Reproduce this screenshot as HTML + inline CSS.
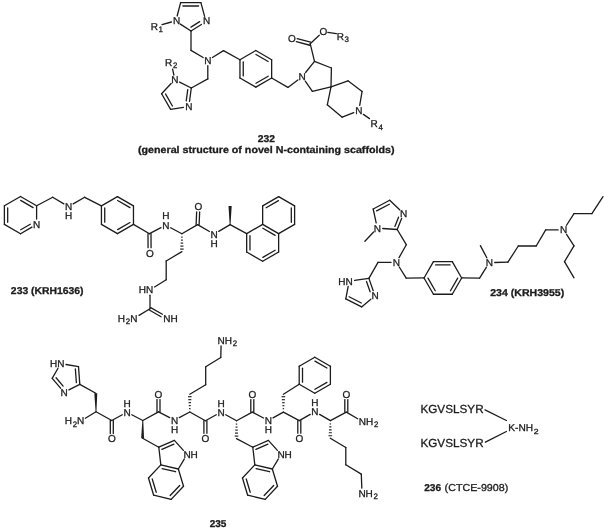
<!DOCTYPE html>
<html><head><meta charset="utf-8"><style>
html,body{margin:0;padding:0;background:#fff;}
body{width:604px;height:530px;overflow:hidden;}
svg{display:block;filter:blur(0.3px);}
svg text{font-family:"Liberation Sans",sans-serif;text-rendering:geometricPrecision;fill:#1c1c1c;stroke:#1c1c1c;stroke-width:0.3px;}
</style></head><body>
<svg width="604" height="530" viewBox="0 0 604 530">
<g stroke="#1c1c1c" stroke-linecap="round" fill="none">
<line x1="177.16" y1="15.97" x2="180.60" y2="2.70" stroke-width="1.3"/>
<line x1="180.60" y1="2.70" x2="200.90" y2="2.70" stroke-width="1.3"/>
<line x1="182.93" y1="6.00" x2="198.57" y2="6.00" stroke-width="1.3"/>
<line x1="200.90" y1="2.70" x2="204.59" y2="16.39" stroke-width="1.3"/>
<line x1="201.42" y1="24.47" x2="191.00" y2="31.00" stroke-width="1.3"/>
<line x1="199.67" y1="21.67" x2="190.97" y2="27.12" stroke-width="1.3"/>
<line x1="191.00" y1="31.00" x2="180.34" y2="24.13" stroke-width="1.3"/>
<text x="172.89" y="23.84" font-size="10.0">N</text>
<text x="202.99" y="24.04" font-size="10.0">N</text>
<line x1="162.00" y1="24.60" x2="171.40" y2="22.00" stroke-width="1.3"/>
<text x="150.69" y="29.94" font-size="10.0">R<tspan font-size="7.9" dx="0.7" dy="2.3">1</tspan></text>
<line x1="191.00" y1="31.00" x2="191.00" y2="50.40" stroke-width="1.3"/>
<text x="204.19" y="63.74" font-size="10.0">N</text>
<line x1="191.00" y1="50.40" x2="203.15" y2="57.56" stroke-width="1.3"/>
<line x1="212.39" y1="57.46" x2="223.50" y2="50.60" stroke-width="1.3"/>
<line x1="223.50" y1="50.60" x2="239.95" y2="59.70" stroke-width="1.3"/>
<line x1="255.80" y1="50.55" x2="239.95" y2="59.70" stroke-width="1.3"/>
<line x1="255.80" y1="50.55" x2="271.65" y2="59.70" stroke-width="1.3"/>
<line x1="255.97" y1="54.46" x2="268.18" y2="61.51" stroke-width="1.3"/>
<line x1="271.65" y1="59.70" x2="271.65" y2="78.00" stroke-width="1.3"/>
<line x1="271.65" y1="78.00" x2="255.80" y2="87.15" stroke-width="1.3"/>
<line x1="268.18" y1="76.19" x2="255.97" y2="83.24" stroke-width="1.3"/>
<line x1="255.80" y1="87.15" x2="239.95" y2="78.00" stroke-width="1.3"/>
<line x1="239.95" y1="78.00" x2="239.95" y2="59.70" stroke-width="1.3"/>
<line x1="243.25" y1="75.90" x2="243.25" y2="61.80" stroke-width="1.3"/>
<line x1="271.65" y1="78.00" x2="287.90" y2="87.40" stroke-width="1.3"/>
<text x="298.59" y="80.14" font-size="10.0">N</text>
<line x1="287.90" y1="87.40" x2="297.88" y2="79.94" stroke-width="1.3"/>
<line x1="305.58" y1="72.49" x2="314.50" y2="61.40" stroke-width="1.3"/>
<line x1="314.50" y1="61.40" x2="331.40" y2="68.00" stroke-width="1.3"/>
<line x1="331.40" y1="68.00" x2="331.00" y2="86.90" stroke-width="1.3"/>
<line x1="331.00" y1="86.90" x2="312.40" y2="91.30" stroke-width="1.3"/>
<line x1="312.40" y1="91.30" x2="305.29" y2="81.13" stroke-width="1.3"/>
<line x1="314.50" y1="61.40" x2="310.20" y2="43.70" stroke-width="1.3"/>
<text x="288.01" y="42.34" font-size="10.0">O</text>
<line x1="310.61" y1="42.15" x2="297.13" y2="38.62" stroke-width="1.3"/>
<line x1="309.79" y1="45.25" x2="296.32" y2="41.72" stroke-width="1.3"/>
<text x="319.51" y="34.84" font-size="10.0">O</text>
<line x1="310.20" y1="43.70" x2="319.26" y2="35.20" stroke-width="1.3"/>
<line x1="327.80" y1="32.30" x2="336.40" y2="33.60" stroke-width="1.3"/>
<text x="336.69" y="39.64" font-size="10.0">R<tspan font-size="7.9" dx="0.7" dy="2.3">3</tspan></text>
<line x1="331.00" y1="86.90" x2="348.00" y2="80.80" stroke-width="1.3"/>
<line x1="348.00" y1="80.80" x2="362.10" y2="91.40" stroke-width="1.3"/>
<line x1="362.10" y1="91.40" x2="359.71" y2="105.28" stroke-width="1.3"/>
<line x1="353.78" y1="112.60" x2="342.20" y2="117.20" stroke-width="1.3"/>
<line x1="342.20" y1="117.20" x2="327.30" y2="104.80" stroke-width="1.3"/>
<line x1="327.30" y1="104.80" x2="331.00" y2="86.90" stroke-width="1.3"/>
<text x="355.19" y="114.04" font-size="10.0">N</text>
<line x1="363.40" y1="114.40" x2="369.50" y2="118.60" stroke-width="1.3"/>
<text x="370.49" y="127.24" font-size="10.0">R<tspan font-size="7.9" dx="0.7" dy="2.3">4</tspan></text>
<line x1="207.80" y1="65.70" x2="207.80" y2="78.90" stroke-width="1.3"/>
<line x1="207.80" y1="78.90" x2="191.30" y2="88.00" stroke-width="1.3"/>
<line x1="191.30" y1="88.00" x2="179.61" y2="82.05" stroke-width="1.3"/>
<line x1="171.12" y1="83.56" x2="161.60" y2="93.80" stroke-width="1.3"/>
<line x1="161.60" y1="93.80" x2="170.60" y2="109.40" stroke-width="1.3"/>
<line x1="165.49" y1="93.94" x2="172.42" y2="105.96" stroke-width="1.3"/>
<line x1="170.60" y1="109.40" x2="183.46" y2="107.42" stroke-width="1.3"/>
<line x1="189.52" y1="101.25" x2="191.30" y2="88.00" stroke-width="1.3"/>
<line x1="186.25" y1="100.81" x2="187.74" y2="89.70" stroke-width="1.3"/>
<text x="171.19" y="83.04" font-size="10.0">N</text>
<text x="185.19" y="110.04" font-size="10.0">N</text>
<line x1="172.60" y1="69.20" x2="173.90" y2="75.00" stroke-width="1.3"/>
<text x="164.99" y="65.74" font-size="10.0">R<tspan font-size="7.9" dx="0.7" dy="2.3">2</tspan></text>
<text x="257.86" y="141.60" font-size="9.9" font-weight="bold" textLength="17.14" lengthAdjust="spacingAndGlyphs">232</text>
<text x="138.01" y="152.50" font-size="9.8" font-weight="bold" textLength="256.48" lengthAdjust="spacingAndGlyphs">(general structure of novel N-containing scaffolds)</text>
<line x1="20.50" y1="196.50" x2="36.61" y2="205.80" stroke-width="1.3"/>
<line x1="20.70" y1="200.43" x2="33.11" y2="207.59" stroke-width="1.3"/>
<line x1="36.61" y1="205.80" x2="36.61" y2="219.00" stroke-width="1.3"/>
<line x1="31.93" y1="227.10" x2="20.50" y2="233.70" stroke-width="1.3"/>
<line x1="30.28" y1="224.24" x2="20.70" y2="229.77" stroke-width="1.3"/>
<line x1="20.50" y1="233.70" x2="4.39" y2="224.40" stroke-width="1.3"/>
<line x1="4.39" y1="224.40" x2="4.39" y2="205.80" stroke-width="1.3"/>
<line x1="7.69" y1="222.26" x2="7.69" y2="207.94" stroke-width="1.3"/>
<line x1="4.39" y1="205.80" x2="20.50" y2="196.50" stroke-width="1.3"/>
<text x="33.00" y="227.84" font-size="10.0">N</text>
<line x1="36.61" y1="205.80" x2="52.70" y2="197.30" stroke-width="1.3"/>
<text x="64.89" y="210.04" font-size="10.0">N</text>
<text x="64.89" y="219.04" font-size="10.0">H</text>
<line x1="52.70" y1="197.30" x2="63.85" y2="203.86" stroke-width="1.3"/>
<line x1="73.18" y1="203.91" x2="84.70" y2="197.30" stroke-width="1.3"/>
<line x1="84.70" y1="197.30" x2="101.43" y2="205.85" stroke-width="1.3"/>
<line x1="101.43" y1="205.85" x2="117.45" y2="196.60" stroke-width="1.3"/>
<line x1="117.45" y1="196.60" x2="133.47" y2="205.85" stroke-width="1.3"/>
<line x1="117.64" y1="200.52" x2="129.98" y2="207.64" stroke-width="1.3"/>
<line x1="133.47" y1="205.85" x2="133.47" y2="224.35" stroke-width="1.3"/>
<line x1="133.47" y1="224.35" x2="117.45" y2="233.60" stroke-width="1.3"/>
<line x1="129.98" y1="222.56" x2="117.64" y2="229.68" stroke-width="1.3"/>
<line x1="117.45" y1="233.60" x2="101.43" y2="224.35" stroke-width="1.3"/>
<line x1="101.43" y1="224.35" x2="101.43" y2="205.85" stroke-width="1.3"/>
<line x1="104.73" y1="222.22" x2="104.73" y2="207.98" stroke-width="1.3"/>
<line x1="133.47" y1="224.35" x2="149.50" y2="233.70" stroke-width="1.3"/>
<text x="145.91" y="256.54" font-size="10.0">O</text>
<line x1="148.00" y1="233.71" x2="148.07" y2="247.71" stroke-width="1.3"/>
<line x1="151.00" y1="233.69" x2="151.07" y2="247.69" stroke-width="1.3"/>
<text x="162.19" y="228.64" font-size="10.0">N</text>
<text x="162.19" y="219.44" font-size="10.0">H</text>
<line x1="149.50" y1="233.70" x2="161.01" y2="227.70" stroke-width="1.3"/>
<line x1="170.58" y1="227.72" x2="181.90" y2="233.70" stroke-width="1.3"/>
<line x1="182.60" y1="237.10" x2="181.20" y2="237.10" stroke-width="1.15" stroke-linecap="butt"/>
<line x1="182.88" y1="240.10" x2="180.93" y2="240.10" stroke-width="1.15" stroke-linecap="butt"/>
<line x1="183.15" y1="243.10" x2="180.65" y2="243.10" stroke-width="1.15" stroke-linecap="butt"/>
<line x1="183.43" y1="246.10" x2="180.38" y2="246.10" stroke-width="1.15" stroke-linecap="butt"/>
<line x1="183.70" y1="249.09" x2="180.10" y2="249.09" stroke-width="1.15" stroke-linecap="butt"/>
<line x1="181.90" y1="233.70" x2="197.60" y2="224.60" stroke-width="1.3"/>
<text x="194.51" y="209.94" font-size="10.0">O</text>
<line x1="199.10" y1="224.67" x2="199.66" y2="211.96" stroke-width="1.3"/>
<line x1="196.10" y1="224.53" x2="196.66" y2="211.83" stroke-width="1.3"/>
<text x="210.49" y="237.64" font-size="10.0">N</text>
<text x="210.49" y="247.04" font-size="10.0">H</text>
<line x1="197.60" y1="224.60" x2="209.43" y2="231.48" stroke-width="1.3"/>
<line x1="218.73" y1="231.42" x2="230.10" y2="224.60" stroke-width="1.3"/>
<polygon points="230.55,224.60 231.70,206.00 228.50,206.00 229.65,224.60" fill="#1c1c1c" stroke="none"/>
<line x1="230.10" y1="224.60" x2="246.67" y2="233.58" stroke-width="1.3"/>
<line x1="262.65" y1="224.35" x2="278.63" y2="233.58" stroke-width="1.3"/>
<line x1="262.84" y1="228.27" x2="275.14" y2="235.37" stroke-width="1.3"/>
<line x1="278.63" y1="233.58" x2="278.63" y2="252.03" stroke-width="1.3"/>
<line x1="278.63" y1="252.03" x2="262.65" y2="261.25" stroke-width="1.3"/>
<line x1="275.14" y1="250.23" x2="262.84" y2="257.33" stroke-width="1.3"/>
<line x1="262.65" y1="261.25" x2="246.67" y2="252.03" stroke-width="1.3"/>
<line x1="246.67" y1="252.03" x2="246.67" y2="233.58" stroke-width="1.3"/>
<line x1="249.97" y1="249.90" x2="249.97" y2="235.70" stroke-width="1.3"/>
<line x1="246.67" y1="233.58" x2="262.65" y2="224.35" stroke-width="1.3"/>
<line x1="262.65" y1="224.35" x2="262.65" y2="205.90" stroke-width="1.3"/>
<line x1="262.65" y1="205.90" x2="278.63" y2="196.68" stroke-width="1.3"/>
<line x1="266.14" y1="207.70" x2="278.44" y2="200.59" stroke-width="1.3"/>
<line x1="278.63" y1="196.68" x2="294.61" y2="205.90" stroke-width="1.3"/>
<line x1="294.61" y1="205.90" x2="294.61" y2="224.35" stroke-width="1.3"/>
<line x1="291.31" y1="208.02" x2="291.31" y2="222.23" stroke-width="1.3"/>
<line x1="294.61" y1="224.35" x2="278.63" y2="233.58" stroke-width="1.3"/>
<line x1="181.90" y1="251.60" x2="166.20" y2="261.00" stroke-width="1.3"/>
<line x1="166.20" y1="261.00" x2="166.20" y2="279.80" stroke-width="1.3"/>
<line x1="166.20" y1="279.80" x2="154.60" y2="286.96" stroke-width="1.3"/>
<text x="138.77" y="293.44" font-size="10.0">HN</text>
<line x1="150.00" y1="295.20" x2="150.00" y2="308.80" stroke-width="1.3"/>
<line x1="150.00" y1="308.80" x2="139.03" y2="315.41" stroke-width="1.3"/>
<line x1="149.30" y1="310.01" x2="161.02" y2="316.73" stroke-width="1.3"/>
<line x1="150.70" y1="307.59" x2="162.41" y2="314.30" stroke-width="1.3"/>
<text x="117.87" y="321.64" font-size="10.0">H<tspan font-size="7.9" dx="0.7" dy="2.3">2</tspan><tspan dy="-2.3">N</tspan></text>
<text x="163.19" y="321.64" font-size="10.0">NH</text>
<text x="10.86" y="294.30" font-size="9.9" font-weight="bold" textLength="72.64" lengthAdjust="spacingAndGlyphs">233 (KRH1636)</text>
<line x1="373.20" y1="209.00" x2="389.70" y2="200.30" stroke-width="1.3"/>
<line x1="376.64" y1="210.92" x2="389.34" y2="204.22" stroke-width="1.3"/>
<line x1="389.70" y1="200.30" x2="399.67" y2="209.70" stroke-width="1.3"/>
<line x1="401.61" y1="218.42" x2="397.20" y2="229.50" stroke-width="1.3"/>
<line x1="398.54" y1="217.20" x2="394.87" y2="226.43" stroke-width="1.3"/>
<line x1="397.20" y1="229.50" x2="382.69" y2="228.48" stroke-width="1.3"/>
<line x1="376.17" y1="222.82" x2="373.20" y2="209.00" stroke-width="1.3"/>
<text x="399.99" y="216.84" font-size="10.0">N</text>
<text x="373.69" y="231.54" font-size="10.0">N</text>
<line x1="373.60" y1="232.04" x2="364.90" y2="241.30" stroke-width="1.3"/>
<line x1="397.20" y1="229.50" x2="406.30" y2="244.70" stroke-width="1.3"/>
<text x="392.79" y="265.84" font-size="10.0">N</text>
<line x1="406.30" y1="244.70" x2="399.04" y2="257.69" stroke-width="1.3"/>
<line x1="391.00" y1="262.40" x2="378.00" y2="262.40" stroke-width="1.3"/>
<line x1="378.00" y1="262.40" x2="368.90" y2="278.40" stroke-width="1.3"/>
<line x1="368.90" y1="278.40" x2="373.21" y2="290.70" stroke-width="1.3"/>
<line x1="366.49" y1="281.49" x2="370.10" y2="291.80" stroke-width="1.3"/>
<line x1="370.84" y1="299.24" x2="361.60" y2="306.90" stroke-width="1.3"/>
<line x1="361.60" y1="306.90" x2="345.80" y2="298.80" stroke-width="1.3"/>
<line x1="361.29" y1="303.03" x2="349.12" y2="296.79" stroke-width="1.3"/>
<line x1="345.80" y1="298.80" x2="348.18" y2="286.40" stroke-width="1.3"/>
<line x1="354.55" y1="280.37" x2="368.90" y2="278.40" stroke-width="1.3"/>
<text x="371.39" y="299.24" font-size="10.0">N</text>
<text x="338.37" y="284.54" font-size="10.0">HN</text>
<line x1="399.26" y1="266.98" x2="406.20" y2="278.10" stroke-width="1.3"/>
<line x1="406.20" y1="278.10" x2="424.05" y2="277.95" stroke-width="1.3"/>
<line x1="433.45" y1="261.67" x2="452.25" y2="261.67" stroke-width="1.3"/>
<line x1="435.61" y1="264.97" x2="450.09" y2="264.97" stroke-width="1.3"/>
<line x1="424.05" y1="277.95" x2="433.45" y2="261.67" stroke-width="1.3"/>
<line x1="452.25" y1="261.67" x2="461.65" y2="277.95" stroke-width="1.3"/>
<line x1="461.65" y1="277.95" x2="452.25" y2="294.23" stroke-width="1.3"/>
<line x1="457.71" y1="278.17" x2="450.47" y2="290.71" stroke-width="1.3"/>
<line x1="452.25" y1="294.23" x2="433.45" y2="294.23" stroke-width="1.3"/>
<line x1="433.45" y1="294.23" x2="424.05" y2="277.95" stroke-width="1.3"/>
<line x1="435.23" y1="290.71" x2="427.99" y2="278.17" stroke-width="1.3"/>
<line x1="461.65" y1="277.95" x2="479.60" y2="278.10" stroke-width="1.3"/>
<text x="485.69" y="266.04" font-size="10.0">N</text>
<line x1="479.60" y1="278.10" x2="486.44" y2="267.18" stroke-width="1.3"/>
<line x1="486.80" y1="257.82" x2="480.40" y2="245.60" stroke-width="1.3"/>
<line x1="494.70" y1="262.48" x2="507.90" y2="262.20" stroke-width="1.3"/>
<line x1="507.90" y1="262.20" x2="518.30" y2="246.00" stroke-width="1.3"/>
<line x1="518.30" y1="246.00" x2="536.20" y2="246.00" stroke-width="1.3"/>
<line x1="536.20" y1="246.00" x2="545.70" y2="229.80" stroke-width="1.3"/>
<text x="559.99" y="233.24" font-size="10.0">N</text>
<line x1="545.70" y1="229.80" x2="558.20" y2="229.80" stroke-width="1.3"/>
<line x1="566.52" y1="225.26" x2="574.00" y2="213.60" stroke-width="1.3"/>
<line x1="574.00" y1="213.60" x2="591.90" y2="213.60" stroke-width="1.3"/>
<line x1="591.90" y1="213.60" x2="603.00" y2="196.60" stroke-width="1.3"/>
<line x1="566.54" y1="234.33" x2="574.00" y2="245.80" stroke-width="1.3"/>
<line x1="574.00" y1="245.80" x2="564.50" y2="261.70" stroke-width="1.3"/>
<line x1="564.50" y1="261.70" x2="574.00" y2="277.80" stroke-width="1.3"/>
<text x="490.16" y="295.60" font-size="9.9" font-weight="bold" textLength="74.04" lengthAdjust="spacingAndGlyphs">234 (KRH3955)</text>
<line x1="66.02" y1="364.50" x2="78.50" y2="366.60" stroke-width="1.3"/>
<line x1="78.50" y1="366.60" x2="79.80" y2="384.40" stroke-width="1.3"/>
<line x1="75.36" y1="368.89" x2="76.36" y2="382.59" stroke-width="1.3"/>
<line x1="79.80" y1="384.40" x2="68.92" y2="389.87" stroke-width="1.3"/>
<line x1="60.60" y1="388.19" x2="52.20" y2="378.30" stroke-width="1.3"/>
<line x1="63.12" y1="386.05" x2="56.08" y2="377.77" stroke-width="1.3"/>
<line x1="52.20" y1="378.30" x2="58.00" y2="368.27" stroke-width="1.3"/>
<text x="49.97" y="367.04" font-size="10.0">HN</text>
<text x="60.49" y="395.74" font-size="10.0">N</text>
<line x1="79.80" y1="384.40" x2="95.80" y2="393.30" stroke-width="1.3"/>
<polygon points="96.45,411.80 97.25,393.28 94.35,393.32 95.55,411.80" fill="#1c1c1c" stroke="none"/>
<line x1="96.00" y1="411.80" x2="85.33" y2="418.22" stroke-width="1.3"/>
<text x="64.77" y="424.44" font-size="10.0">H<tspan font-size="7.9" dx="0.7" dy="2.3">2</tspan><tspan dy="-2.3">N</tspan></text>
<line x1="96.00" y1="411.80" x2="111.80" y2="420.50" stroke-width="1.3"/>
<line x1="111.80" y1="420.50" x2="122.26" y2="414.79" stroke-width="1.3"/>
<line x1="131.78" y1="414.71" x2="142.80" y2="420.50" stroke-width="1.3"/>
<line x1="142.80" y1="420.50" x2="158.50" y2="411.90" stroke-width="1.3"/>
<line x1="158.50" y1="411.90" x2="169.69" y2="417.64" stroke-width="1.3"/>
<line x1="179.27" y1="417.57" x2="189.80" y2="412.00" stroke-width="1.3"/>
<line x1="189.80" y1="412.00" x2="205.40" y2="420.70" stroke-width="1.3"/>
<line x1="205.40" y1="420.70" x2="216.26" y2="414.78" stroke-width="1.3"/>
<line x1="225.73" y1="414.80" x2="236.50" y2="420.70" stroke-width="1.3"/>
<line x1="236.50" y1="420.70" x2="252.30" y2="412.10" stroke-width="1.3"/>
<line x1="252.30" y1="412.10" x2="263.52" y2="417.99" stroke-width="1.3"/>
<line x1="273.02" y1="417.87" x2="283.40" y2="412.10" stroke-width="1.3"/>
<line x1="283.40" y1="412.10" x2="299.30" y2="420.60" stroke-width="1.3"/>
<line x1="299.30" y1="420.60" x2="310.21" y2="414.38" stroke-width="1.3"/>
<line x1="319.58" y1="414.39" x2="330.40" y2="420.60" stroke-width="1.3"/>
<line x1="330.40" y1="420.60" x2="346.30" y2="412.10" stroke-width="1.3"/>
<line x1="346.30" y1="412.10" x2="357.72" y2="418.70" stroke-width="1.3"/>
<text x="123.39" y="415.64" font-size="10.0">N</text>
<text x="123.39" y="406.54" font-size="10.0">H</text>
<text x="170.89" y="423.54" font-size="10.0">N</text>
<text x="170.89" y="432.64" font-size="10.0">H</text>
<text x="217.39" y="415.64" font-size="10.0">N</text>
<text x="217.39" y="406.54" font-size="10.0">H</text>
<text x="264.69" y="423.94" font-size="10.0">N</text>
<text x="264.69" y="433.04" font-size="10.0">H</text>
<text x="311.29" y="415.14" font-size="10.0">N</text>
<text x="311.29" y="406.04" font-size="10.0">H</text>
<text x="358.79" y="424.84" font-size="10.0">NH<tspan font-size="7.9" dx="0.7" dy="2.3">2</tspan></text>
<text x="107.91" y="442.34" font-size="10.0">O</text>
<line x1="110.30" y1="420.50" x2="110.30" y2="433.50" stroke-width="1.3"/>
<line x1="113.30" y1="420.50" x2="113.30" y2="433.50" stroke-width="1.3"/>
<text x="154.61" y="397.64" font-size="10.0">O</text>
<line x1="160.00" y1="411.90" x2="160.00" y2="399.60" stroke-width="1.3"/>
<line x1="157.00" y1="411.90" x2="157.00" y2="399.60" stroke-width="1.3"/>
<text x="201.51" y="442.14" font-size="10.0">O</text>
<line x1="203.90" y1="420.70" x2="203.90" y2="433.30" stroke-width="1.3"/>
<line x1="206.90" y1="420.70" x2="206.90" y2="433.30" stroke-width="1.3"/>
<text x="248.41" y="397.64" font-size="10.0">O</text>
<line x1="253.80" y1="412.10" x2="253.80" y2="399.60" stroke-width="1.3"/>
<line x1="250.80" y1="412.10" x2="250.80" y2="399.60" stroke-width="1.3"/>
<text x="295.41" y="442.04" font-size="10.0">O</text>
<line x1="297.80" y1="420.60" x2="297.80" y2="433.20" stroke-width="1.3"/>
<line x1="300.80" y1="420.60" x2="300.80" y2="433.20" stroke-width="1.3"/>
<text x="342.41" y="397.64" font-size="10.0">O</text>
<line x1="347.80" y1="412.10" x2="347.80" y2="399.60" stroke-width="1.3"/>
<line x1="344.80" y1="412.10" x2="344.80" y2="399.60" stroke-width="1.3"/>
<polygon points="142.35,420.49 141.15,438.28 144.05,438.32 143.25,420.51" fill="#1c1c1c" stroke="none"/>
<line x1="189.10" y1="408.62" x2="190.50" y2="408.62" stroke-width="1.15" stroke-linecap="butt"/>
<line x1="188.83" y1="405.64" x2="190.78" y2="405.64" stroke-width="1.15" stroke-linecap="butt"/>
<line x1="188.55" y1="402.65" x2="191.05" y2="402.65" stroke-width="1.15" stroke-linecap="butt"/>
<line x1="188.28" y1="399.67" x2="191.33" y2="399.67" stroke-width="1.15" stroke-linecap="butt"/>
<line x1="188.00" y1="396.69" x2="191.60" y2="396.69" stroke-width="1.15" stroke-linecap="butt"/>
<line x1="189.80" y1="394.20" x2="205.70" y2="384.80" stroke-width="1.3"/>
<line x1="205.70" y1="384.80" x2="205.70" y2="366.80" stroke-width="1.3"/>
<line x1="205.70" y1="366.80" x2="220.80" y2="357.50" stroke-width="1.3"/>
<line x1="220.80" y1="357.50" x2="221.07" y2="345.80" stroke-width="1.3"/>
<text x="217.59" y="343.84" font-size="10.0">NH<tspan font-size="7.9" dx="0.7" dy="2.3">2</tspan></text>
<line x1="237.20" y1="424.10" x2="235.80" y2="424.10" stroke-width="1.15" stroke-linecap="butt"/>
<line x1="237.47" y1="427.10" x2="235.53" y2="427.10" stroke-width="1.15" stroke-linecap="butt"/>
<line x1="237.75" y1="430.10" x2="235.25" y2="430.10" stroke-width="1.15" stroke-linecap="butt"/>
<line x1="238.03" y1="433.10" x2="234.97" y2="433.10" stroke-width="1.15" stroke-linecap="butt"/>
<line x1="238.30" y1="436.09" x2="234.70" y2="436.09" stroke-width="1.15" stroke-linecap="butt"/>
<line x1="282.70" y1="408.70" x2="284.10" y2="408.70" stroke-width="1.15" stroke-linecap="butt"/>
<line x1="282.42" y1="405.70" x2="284.38" y2="405.70" stroke-width="1.15" stroke-linecap="butt"/>
<line x1="282.15" y1="402.70" x2="284.65" y2="402.70" stroke-width="1.15" stroke-linecap="butt"/>
<line x1="281.88" y1="399.70" x2="284.92" y2="399.70" stroke-width="1.15" stroke-linecap="butt"/>
<line x1="281.60" y1="396.71" x2="285.20" y2="396.71" stroke-width="1.15" stroke-linecap="butt"/>
<line x1="283.40" y1="394.20" x2="299.21" y2="384.20" stroke-width="1.3"/>
<line x1="314.80" y1="357.20" x2="299.21" y2="366.20" stroke-width="1.3"/>
<line x1="314.80" y1="357.20" x2="330.39" y2="366.20" stroke-width="1.3"/>
<line x1="314.94" y1="361.09" x2="326.95" y2="368.02" stroke-width="1.3"/>
<line x1="330.39" y1="366.20" x2="330.39" y2="384.20" stroke-width="1.3"/>
<line x1="330.39" y1="384.20" x2="314.80" y2="393.20" stroke-width="1.3"/>
<line x1="326.95" y1="382.38" x2="314.94" y2="389.31" stroke-width="1.3"/>
<line x1="314.80" y1="393.20" x2="299.21" y2="384.20" stroke-width="1.3"/>
<line x1="299.21" y1="384.20" x2="299.21" y2="366.20" stroke-width="1.3"/>
<line x1="302.51" y1="382.13" x2="302.51" y2="368.27" stroke-width="1.3"/>
<line x1="331.08" y1="423.95" x2="329.68" y2="423.94" stroke-width="1.15" stroke-linecap="butt"/>
<line x1="331.34" y1="426.90" x2="329.39" y2="426.89" stroke-width="1.15" stroke-linecap="butt"/>
<line x1="331.60" y1="429.85" x2="329.10" y2="429.83" stroke-width="1.15" stroke-linecap="butt"/>
<line x1="331.86" y1="432.80" x2="328.81" y2="432.78" stroke-width="1.15" stroke-linecap="butt"/>
<line x1="332.11" y1="435.75" x2="328.51" y2="435.73" stroke-width="1.15" stroke-linecap="butt"/>
<line x1="330.30" y1="438.20" x2="345.80" y2="447.50" stroke-width="1.3"/>
<line x1="345.80" y1="447.50" x2="345.80" y2="464.80" stroke-width="1.3"/>
<line x1="345.80" y1="464.80" x2="361.30" y2="474.10" stroke-width="1.3"/>
<line x1="361.30" y1="474.10" x2="361.80" y2="488.00" stroke-width="1.3"/>
<text x="358.39" y="496.84" font-size="10.0">NH<tspan font-size="7.9" dx="0.7" dy="2.3">2</tspan></text>
<line x1="160.83" y1="464.86" x2="148.48" y2="477.96" stroke-width="1.3"/>
<line x1="148.48" y1="477.96" x2="153.66" y2="495.20" stroke-width="1.3"/>
<line x1="152.24" y1="478.99" x2="156.22" y2="492.27" stroke-width="1.3"/>
<line x1="153.66" y1="495.20" x2="171.17" y2="499.34" stroke-width="1.3"/>
<line x1="171.17" y1="499.34" x2="183.52" y2="486.24" stroke-width="1.3"/>
<line x1="170.19" y1="495.57" x2="179.70" y2="485.48" stroke-width="1.3"/>
<line x1="183.52" y1="486.24" x2="178.34" y2="469.00" stroke-width="1.3"/>
<line x1="178.34" y1="469.00" x2="160.83" y2="464.86" stroke-width="1.3"/>
<line x1="175.57" y1="471.74" x2="162.08" y2="468.55" stroke-width="1.3"/>
<line x1="160.83" y1="464.86" x2="158.80" y2="447.20" stroke-width="1.3"/>
<line x1="158.80" y1="447.20" x2="174.40" y2="440.40" stroke-width="1.3"/>
<line x1="161.91" y1="449.44" x2="173.92" y2="444.21" stroke-width="1.3"/>
<line x1="174.40" y1="440.40" x2="183.39" y2="450.39" stroke-width="1.3"/>
<line x1="184.25" y1="459.05" x2="178.34" y2="469.00" stroke-width="1.3"/>
<line x1="142.60" y1="438.30" x2="158.80" y2="447.20" stroke-width="1.3"/>
<text x="183.39" y="457.84" font-size="10.0">NH</text>
<line x1="254.83" y1="464.86" x2="242.48" y2="477.96" stroke-width="1.3"/>
<line x1="242.48" y1="477.96" x2="247.66" y2="495.20" stroke-width="1.3"/>
<line x1="246.24" y1="478.99" x2="250.22" y2="492.27" stroke-width="1.3"/>
<line x1="247.66" y1="495.20" x2="265.17" y2="499.34" stroke-width="1.3"/>
<line x1="265.17" y1="499.34" x2="277.52" y2="486.24" stroke-width="1.3"/>
<line x1="264.19" y1="495.57" x2="273.70" y2="485.48" stroke-width="1.3"/>
<line x1="277.52" y1="486.24" x2="272.34" y2="469.00" stroke-width="1.3"/>
<line x1="272.34" y1="469.00" x2="254.83" y2="464.86" stroke-width="1.3"/>
<line x1="269.57" y1="471.74" x2="256.08" y2="468.55" stroke-width="1.3"/>
<line x1="254.83" y1="464.86" x2="252.80" y2="447.20" stroke-width="1.3"/>
<line x1="252.80" y1="447.20" x2="268.40" y2="440.40" stroke-width="1.3"/>
<line x1="255.91" y1="449.44" x2="267.92" y2="444.21" stroke-width="1.3"/>
<line x1="268.40" y1="440.40" x2="277.39" y2="450.39" stroke-width="1.3"/>
<line x1="278.25" y1="459.05" x2="272.34" y2="469.00" stroke-width="1.3"/>
<line x1="236.50" y1="438.60" x2="252.80" y2="447.20" stroke-width="1.3"/>
<text x="277.39" y="457.84" font-size="10.0">NH</text>
<text x="209.66" y="526.60" font-size="9.9" font-weight="bold" textLength="16.72" lengthAdjust="spacingAndGlyphs">235</text>
<text x="420.44" y="413.40" font-size="11.7" textLength="63.20" lengthAdjust="spacingAndGlyphs">KGVSLSYR</text>
<text x="420.44" y="446.60" font-size="11.7" textLength="63.20" lengthAdjust="spacingAndGlyphs">KGVSLSYR</text>
<line x1="485.00" y1="409.90" x2="506.40" y2="420.50" stroke-width="1.3"/>
<line x1="485.40" y1="442.20" x2="506.40" y2="431.50" stroke-width="1.3"/>
<text x="508.38" y="431.30" font-size="10.0" textLength="24.74" lengthAdjust="spacingAndGlyphs">K-NH</text>
<text x="533.83" y="433.60" font-size="7.4" textLength="4.84" lengthAdjust="spacingAndGlyphs">2</text>
<text x="424.16" y="491.00" font-size="9.9" font-weight="bold" textLength="16.90" lengthAdjust="spacingAndGlyphs">236</text>
<text x="444.58" y="491.00" font-size="10.0" textLength="63.74" lengthAdjust="spacingAndGlyphs">(CTCE-9908)</text>
</g>
</svg>
</body></html>
